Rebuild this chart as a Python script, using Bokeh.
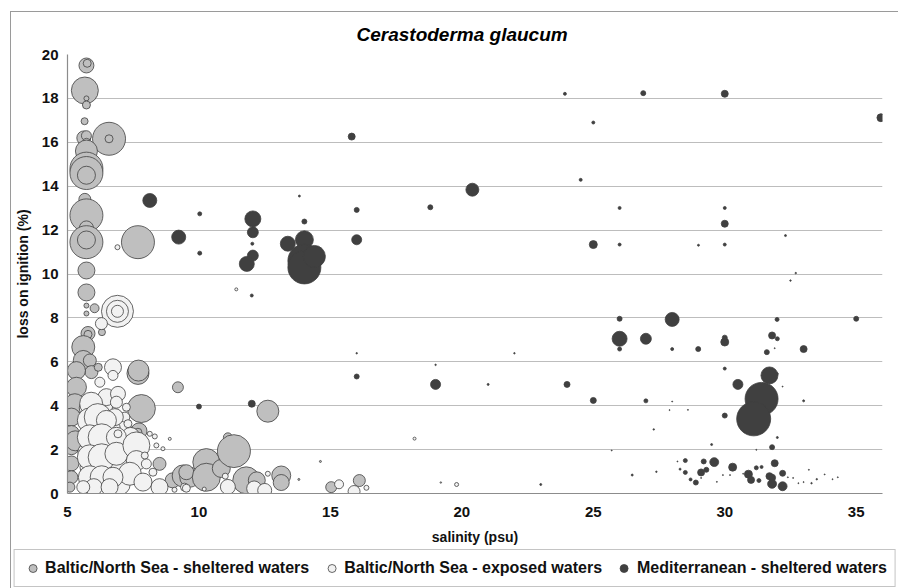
import numpy as np
from bokeh.plotting import figure
from bokeh.layouts import column
from bokeh.models import ColumnDataSource, Legend, LegendItem, Range1d, FixedTicker
from bokeh.embed import file_html
from bokeh.resources import INLINE

title_text = "Cerastoderma glaucum"
x_label = "salinity (psu)"
y_label = "loss on ignition (%)"
series_names = ["Baltic/North Sea - sheltered waters",
                "Baltic/North Sea - exposed waters",
                "Mediterranean - sheltered waters"]
x_ticks = [5, 10, 15, 20, 25, 30, 35]
y_ticks = [0, 2, 4, 6, 8, 10, 12, 14, 16, 18, 20]

# Baltic/North Sea - sheltered waters: salinity, LOI, bubble value
sh_x = [5.72, 5.75, 5.72, 5.66, 5.72, 5.72, 5.65, 5.62, 5.72, 5.72, 6.58, 6.58, 5.72, 5.72, 5.72,
        5.72, 5.66, 5.72, 5.72, 5.72, 5.72, 7.68, 5.72, 5.72, 5.72, 6.03, 5.72, 6.31, 5.78, 5.78,
        5.60, 5.60, 5.85, 5.91, 5.34, 6.17, 5.34, 5.28, 5.15, 5.15, 5.15, 5.15, 5.15, 5.09, 5.30,
        7.68, 7.70, 9.20, 7.81, 7.72, 7.68, 8.50, 9.00, 9.40, 9.65, 9.52, 10.28, 10.28, 10.85, 11.10,
        11.33, 11.80, 12.20, 12.62, 13.13, 13.13, 13.80, 14.62, 15.03, 16.10, 19.20]
sh_y = [19.50, 19.60, 18.86, 18.36, 18.00, 17.70, 16.96, 16.20, 16.30, 16.00, 16.16, 16.16, 15.60, 14.80, 14.60,
        14.50, 13.40, 12.67, 12.10, 11.45, 11.55, 11.45, 10.16, 9.16, 8.56, 8.44, 8.20, 7.35, 7.29, 7.25,
        6.67, 6.06, 6.06, 5.53, 5.60, 5.75, 4.84, 4.09, 3.48, 2.73, 2.11, 1.37, 0.74, 0.29, 2.40,
        5.47, 5.60, 4.84, 3.87, 2.85, 2.79, 1.35, 0.60, 0.80, 0.74, 0.97, 1.43, 0.74, 1.14, 2.56,
        1.93, 0.60, 0.60, 3.75, 0.82, 0.50, 0.64, 1.46, 0.29, 0.59, 0.50]
sh_v = [56, 16, 4, 182, 6.25, 16, 12.25, 49, 25, 16, 272, 16, 121, 272, 272,
        81, 36, 272, 49, 272, 81, 272, 72, 72, 6.25, 20, 6.25, 12.25, 49, 16,
        132, 100, 42, 42, 81, 16, 100, 100, 81, 64, 56, 56, 42, 25, 100,
        121, 110, 30, 196, 64, 16, 42, 56, 121, 100, 56, 182, 196, 81, 20,
        272, 182, 72, 121, 90, 64, 1, 1, 30, 36, 0.56]

# Baltic/North Sea - exposed waters
ex_x = [6.90, 6.90, 6.90, 6.90, 6.29, 5.95, 6.50, 5.95, 6.50, 5.70, 6.00, 7.00, 7.10, 6.40, 5.75,
        7.40, 7.20, 6.00, 7.00, 6.60,
        6.73, 6.73, 6.23, 6.48, 6.92, 7.24, 7.18, 7.30, 6.86, 6.80, 5.90, 5.85, 6.15, 6.48, 5.85,
        6.30, 6.86, 5.85, 6.30, 6.86, 7.62, 7.62, 7.37, 5.85, 6.30, 6.73, 6.00, 6.60, 5.60, 7.87,
        8.50, 8.00, 8.25, 7.94, 8.38, 8.63, 8.32, 8.13, 6.92, 8.89, 9.07, 9.45, 9.52, 10.20, 11.10,
        11.00, 12.10, 12.50, 12.62, 15.33, 15.90, 16.37, 18.20, 19.80, 11.42]
ex_y = [11.22, 8.30, 8.30, 8.30, 7.74, 2.10, 2.00, 1.20, 1.20, 1.90, 3.90, 1.20, 3.00, 4.00, 3.90,
        2.60, 2.00, 0.50, 0.40, 2.90,
        5.75, 5.38, 5.07, 4.39, 4.54, 3.93, 3.48, 3.18, 4.16, 3.48, 4.09, 3.33, 3.48, 3.33, 2.56,
        2.56, 2.56, 1.65, 1.65, 1.81, 2.19, 1.50, 0.90, 0.74, 0.74, 0.74, 0.29, 0.29, 0.29, 0.52,
        0.29, 1.35, 0.97, 1.73, 2.19, 2.04, 2.60, 2.72, 2.72, 2.49, 0.17, 0.29, 0.24, 0.20, 0.30,
        0.79, 0.23, 0.14, 0.90, 0.42, 0.09, 0.26, 2.50, 0.41, 9.30]
ex_v = [6.25, 256, 121, 36, 36, 156, 156, 156, 156, 64, 100, 121, 72, 72, 64,
        81, 100, 100, 100, 121,
        72, 25, 25, 72, 56, 16, 25, 16, 36, 72, 132, 156, 182, 100, 156,
        182, 100, 156, 182, 132, 182, 100, 132, 132, 132, 100, 72, 72, 42, 81,
        72, 25, 16, 12.25, 6.25, 4, 6.25, 6.25, 16, 2.25, 6.25, 16, 16, 4, 56,
        9, 56, 49, 6.25, 20, 36, 6.25, 2.25, 4, 2.25]

# Mediterranean - sheltered waters
me_x = [8.13, 9.23, 10.03, 10.03, 12.05, 12.05, 12.03, 12.05, 11.82, 12.01, 13.38, 14.01, 14.01, 14.01, 14.39,
        13.82, 14.01, 15.81, 16.00, 16.00, 18.80, 23.92, 26.90, 30.00, 35.94, 25.00, 24.52, 20.40, 26.00, 30.00,
        30.00, 25.00, 26.00, 29.00, 30.00, 32.31, 32.70, 32.50, 16.00, 16.00, 19.00, 19.00, 21.00, 22.00, 24.00,
        25.00, 25.70, 26.48, 23.00, 27.30, 27.40, 26.00, 28.00, 31.99, 35.00, 26.00, 27.00, 26.00, 28.00, 28.99,
        30.00, 30.00, 31.80, 32.00, 31.60, 31.90, 33.00, 30.00, 31.70, 32.00, 32.20, 30.50, 31.40, 31.10, 27.00,
        28.00, 27.90, 28.60, 33.00, 30.00, 32.00, 31.80, 29.50, 31.20, 10.00, 12.01,
        28.50, 28.20, 29.20, 29.60, 30.30, 31.90, 31.20, 31.40, 28.30, 28.50, 29.10, 29.30, 28.70, 28.90, 30.90,
        31.00, 31.30, 31.70, 31.80, 31.80, 32.20, 32.20,
        29.93, 30.20, 30.70, 32.40, 32.60, 32.80, 33.00, 33.20, 33.30, 33.50, 33.80, 34.10, 34.30, 29.70, 29.10]
me_y = [13.35, 11.68, 12.74, 10.95, 12.51, 11.90, 11.38, 10.84, 10.46, 9.02, 11.38, 11.56, 10.60, 10.30, 10.80,
        13.55, 12.39, 16.26, 12.92, 11.56, 13.04, 18.21, 18.24, 18.21, 17.12, 16.90, 14.29, 13.84, 13.01, 13.01,
        12.29, 11.34, 11.34, 11.31, 11.34, 11.75, 10.04, 9.70, 5.33, 6.39, 4.97, 5.86, 4.97, 6.39, 4.97,
        4.24, 1.96, 0.84, 0.41, 2.92, 0.99, 7.96, 7.93, 7.93, 7.96, 7.05, 7.05, 6.58, 6.58, 6.58,
        6.90, 7.10, 7.20, 7.05, 6.44, 6.62, 6.58, 5.69, 5.38, 5.45, 4.87, 4.97, 4.31, 3.40, 4.22,
        4.19, 3.80, 3.81, 4.22, 3.55, 2.55, 2.11, 2.23, 1.99, 3.96, 4.09,
        1.50, 1.46, 1.46, 1.43, 1.20, 1.38, 1.17, 1.21, 1.11, 0.96, 0.96, 1.08, 0.64, 0.50, 0.88,
        0.62, 0.59, 0.79, 0.72, 0.44, 0.92, 0.33,
        0.84, 0.84, 0.90, 0.74, 0.71, 0.47, 0.52, 1.08, 0.47, 0.65, 0.87, 0.65, 0.74, 0.53, 0.71]
me_v = [49, 49, 4, 4, 64, 30, 2.25, 30, 56, 2.25, 56, 81, 272, 272, 121,
        1, 6.25, 12.25, 6.25, 25, 6.25, 2.25, 6.25, 12.25, 16, 2.25, 2.25, 42, 2.25, 2.25,
        12.25, 16, 2.25, 1, 2.25, 1, 0.56, 0.56, 6.25, 0.56, 25, 0.56, 1, 0.56, 9,
        9, 0.25, 1, 1, 0.56, 0.56, 6.25, 49, 4, 6.25, 56, 30, 4, 2.25, 6.25,
        16, 6.25, 12.25, 4, 6.25, 0.25, 12.25, 2.25, 72, 1, 0.25, 25, 272, 289, 4,
        0.25, 0.25, 0.25, 1, 6.25, 1, 6.25, 1, 0.25, 6.25, 12.25,
        4, 0.25, 6.25, 20, 16, 12.25, 4, 2.25, 1, 4, 12.25, 6.25, 2.25, 6.25, 16,
        12.25, 4, 12.25, 12.25, 20, 9, 20,
        0.25, 0.25, 0.25, 0.25, 0.25, 0.25, 0.25, 0.25, 0.56, 0.56, 0.25, 0.25, 0.25, 0.25, 0.25]

fills = ["#bfbfbf", "#f2f2f2", "#404040"]
outline = "#404040"
FONT = "Liberation Sans"
BUBBLE_SCALE = 2.0  # diameter (px) = BUBBLE_SCALE * sqrt(value)

p = figure(width=887, height=536, output_backend="svg", toolbar_location=None,
           x_range=Range1d(5, 36), y_range=Range1d(0, 20),
           min_border_left=55, min_border_right=16, min_border_top=42, min_border_bottom=55)

p.title.text = title_text
p.title.align = "left"
p.title.offset = 289
p.title.standoff = 19
p.title.text_font = FONT
p.title.text_font_size = "19px"
p.title.text_font_style = "bold italic"
p.title.text_color = "#000000"

p.outline_line_color = None
p.xgrid.grid_line_color = None
p.ygrid.grid_line_color = "#bdbdbd"
p.ygrid.grid_line_width = 1.2

for ax in (p.xaxis[0], p.yaxis[0]):
    ax.axis_line_color = "#8c8c8c"
    ax.axis_line_width = 1.2
    ax.major_tick_line_color = None
    ax.minor_tick_line_color = None
    ax.major_tick_out = 0
    ax.major_tick_in = 0
    ax.minor_tick_out = 0
    ax.minor_tick_in = 0
    ax.major_label_text_font = FONT
    ax.major_label_text_font_size = "15px"
    ax.major_label_text_font_style = "bold"
    ax.major_label_text_color = "#111111"
    ax.axis_label_text_font = FONT
    ax.axis_label_text_font_size = "14px"
    ax.axis_label_text_font_style = "bold"
    ax.axis_label_text_color = "#111111"

p.xaxis.ticker = FixedTicker(ticks=x_ticks)
p.yaxis.ticker = FixedTicker(ticks=y_ticks)
p.xaxis.axis_label = x_label
p.yaxis.axis_label = y_label
p.xaxis.major_label_standoff = 13
p.xaxis.axis_label_standoff = 9
p.yaxis.major_label_standoff = 9
p.yaxis.axis_label_standoff = 8

for xs, ys, vs, fc in ((sh_x, sh_y, sh_v, fills[0]), (ex_x, ex_y, ex_v, fills[1]), (me_x, me_y, me_v, fills[2])):
    src = ColumnDataSource(dict(x=xs, y=ys, d=list(BUBBLE_SCALE * np.sqrt(np.array(vs, dtype=float)))))
    p.scatter("x", "y", size="d", source=src, fill_color=fc, line_color=outline, line_width=0.8)

# legend strip below the chart (legend-only renderers sit outside the visible range)
lf = figure(width=887, height=40, output_backend="svg", toolbar_location=None,
            x_range=Range1d(0, 1), y_range=Range1d(0, 1),
            x_axis_location=None, y_axis_location=None,
            min_border_left=0, min_border_right=0, min_border_top=0, min_border_bottom=0)
lf.frame_align = False
lf.outline_line_color = None
lf.xgrid.grid_line_color = None
lf.ygrid.grid_line_color = None
items = []
for name, fc in zip(series_names, fills):
    r = lf.scatter(x=[0.5], y=[-10], size=8, fill_color=fc, line_color=outline, line_width=0.8)
    items.append(LegendItem(label=name, renderers=[r]))
legend = Legend(items=items, orientation="horizontal", location="center",
                glyph_width=20, glyph_height=20, label_standoff=3, spacing=12, padding=8,
                label_text_font=FONT, label_text_font_size="16px", label_text_font_style="bold",
                label_text_color="#111111", label_height=20, margin=0,
                border_line_color="#8a8a8a", border_line_width=1.2, background_fill_alpha=1)
lf.add_layout(legend, "center")

layout = column(p, lf, spacing=0)
layout.styles = {"margin-left": "10px", "margin-top": "11px",
                 "border-left": "1px solid #9a9a9a", "border-top": "1px solid #9a9a9a"}

open("out.html", "w").write(file_html(layout, INLINE))
